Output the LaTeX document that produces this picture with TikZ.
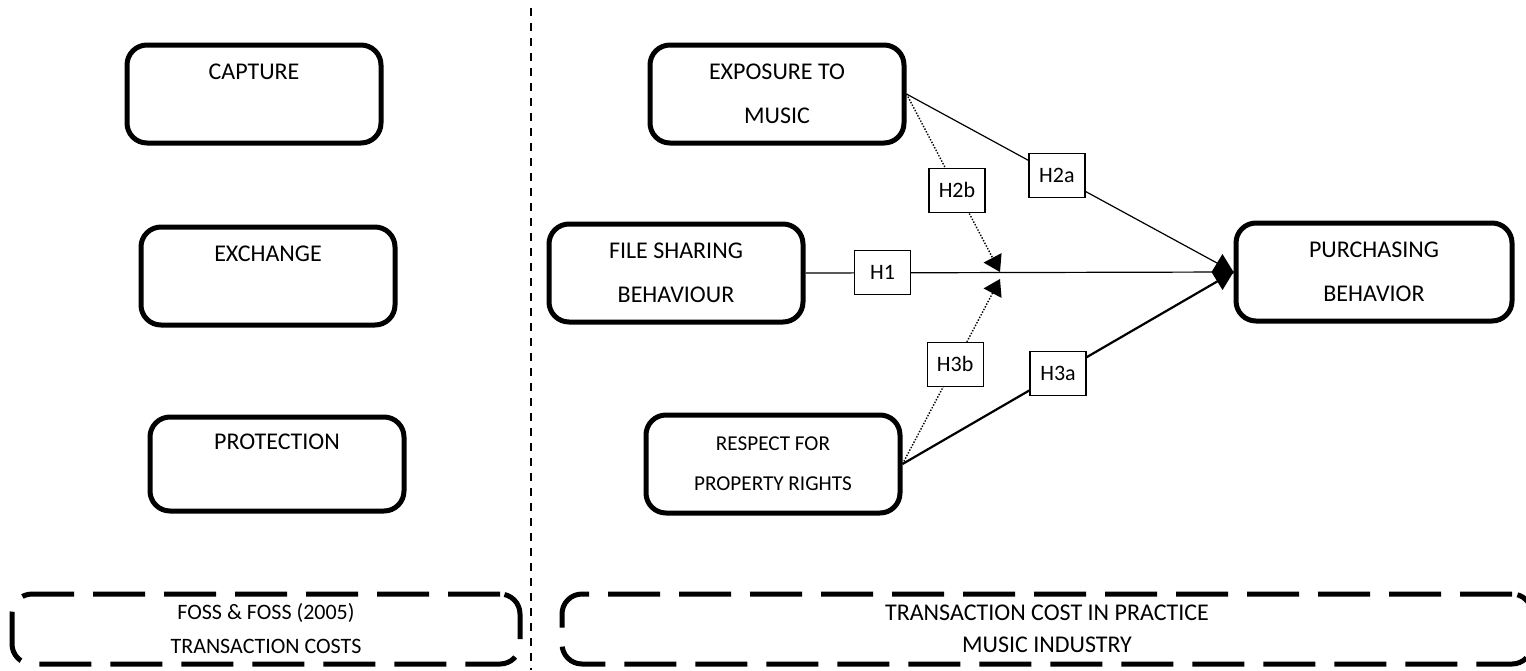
\documentclass[tikz,border=0pt]{standalone}
\usepackage{fontspec}
\setmainfont{Carlito}
\usetikzlibrary{arrows.meta}

\begin{document}
\begin{tikzpicture}[x=0.5pt,y=-0.5pt,
		block/.style={draw,line width=2.5pt,rounded corners=10pt,align=center,inner sep=0pt,
			minimum width=127pt,minimum height=49pt,font=\fontsize{12pt}{22pt}\selectfont},
		frame/.style={draw,line width=2.5pt,rounded corners=10pt,dash pattern=on 26pt off 9.5pt,
			align=center,inner sep=0pt,minimum height=35pt},
		hyp/.style={draw,solid,fill=white,line width=0.6pt,inner sep=0pt,minimum width=28pt,
			minimum height=22pt,font=\fontsize{11pt}{13pt}\selectfont},
		link/.style={line width=0.6pt},
		modlink/.style={line width=0.7pt,dash pattern=on 0.7pt off 0.8pt,-{Triangle[length=8pt,width=10pt]}}]
	
	\useasboundingbox (0,0) rectangle (1526,670);
	
	% dividing line
	\draw[line width=1pt,dash pattern=on 4pt off 3.5pt] (531,8) -- (531,670);
	
	% left column
	\node[block] (capture) at (254,94) {CAPTURE\\~};
	\node[block] (exchange) at (268,276) {EXCHANGE\\~};
	\node[block,minimum height=47pt] (protection) at (277,464) {PROTECTION\\~};
	\node[frame,minimum width=254pt,font=\fontsize{11pt}{17pt}\selectfont] (foss) at (266,629)
		{FOSS \& FOSS (2005)\\TRANSACTION COSTS};
	
	% right column
	\node[block] (exposure) at (777,94) {EXPOSURE TO\\MUSIC};
	\node[block] (sharing) at (676,273) {FILE SHARING\\BEHAVIOUR};
	\node[block,font=\fontsize{10.6pt}{20pt}\selectfont] (respect) at (773,464) {RESPECT FOR\\PROPERTY RIGHTS};
	\node[block,minimum width=138pt] (purchase) at (1374,272) {PURCHASING\\BEHAVIOR};
	\node[frame,minimum width=485pt,font=\fontsize{12pt}{16pt}\selectfont] (practice) at (1047,629)
		{TRANSACTION COST IN PRACTICE\\MUSIC INDUSTRY};
	
	% meeting points of the moderating arrows
	\coordinate (modtop) at (1000,272);
	\coordinate (modbot) at (1000,279);
	
	% hypotheses
	\draw[link,-{Diamond[length=11pt,width=18pt]}] (sharing.east) -- node[hyp,pos=0.18] {H1} (purchase.west);
	\draw[link] (exposure.east) -- node[hyp,pos=0.46] {H2a} (purchase.west);
	\draw[line width=1.1pt] (respect.east) -- node[hyp,pos=0.47] {H3a} (purchase.west);
	\draw[modlink] (exposure.east) -- node[hyp,pos=0.54] {H2b} (modtop);
	\draw[modlink] (respect.east) -- node[hyp,pos=0.54] {H3b} (modbot);
	
\end{tikzpicture}
\end{document}
